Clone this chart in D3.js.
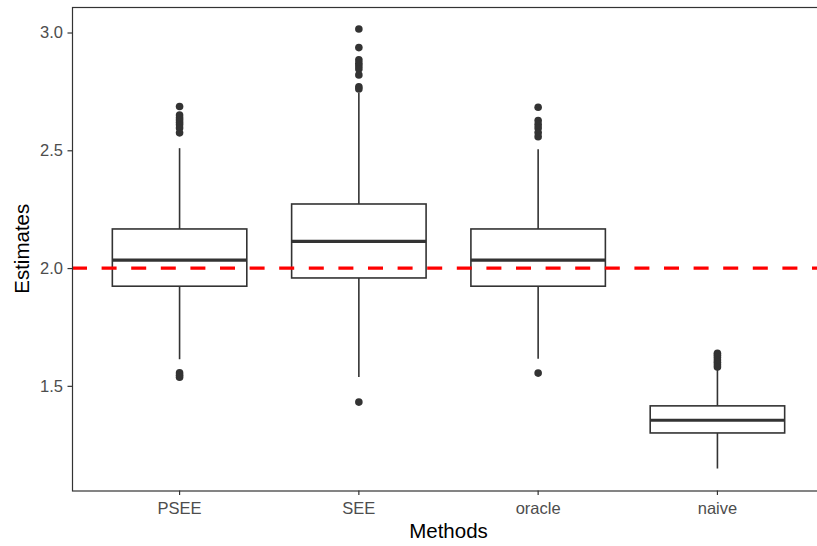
<!DOCTYPE html>
<html>
<head>
<meta charset="utf-8">
<script src="https://cdn.jsdelivr.net/npm/d3@7"></script>
<style>
  body { margin: 0; background: #fff; overflow: hidden; }
  text { font-family: "Liberation Sans", Arial, sans-serif; }
</style>
</head>
<body>
<div id="container"></div>
<script>
// box statistics
const methods = ["PSEE", "SEE", "oracle", "naive"];
const whiskerLow = [1.613, 1.538, 1.615, 1.149];
const q1 = [1.923, 1.958, 1.923, 1.300];
const median = [2.034, 2.113, 2.034, 1.354];
const q3 = [2.166, 2.272, 2.166, 1.415];
const whiskerHigh = [2.509, 2.744, 2.504, 1.575];
const outliers = [
  [2.686, 2.650, 2.638, 2.629, 2.618, 2.608, 2.595, 2.574, 1.555, 1.545, 1.537],
  [3.015, 2.936, 2.884, 2.870, 2.858, 2.845, 2.820, 2.770, 2.760, 1.431],
  [2.683, 2.626, 2.610, 2.595, 2.575, 2.558, 1.554],
  [1.638, 1.630, 1.620, 1.610, 1.600, 1.590, 1.580]
];
const yTicks = [1.5, 2.0, 2.5, 3.0];
const refValue = 2;

const page = d3.select("#container");
const width = 817, height = 546;
// the panel runs a little past the right edge of the picture
const marginLeft = 72, panelRight = 825, marginTop = 7, marginBottom = 55.5;

const svg = page.append("svg")
  .attr("width", width)
  .attr("height", height)
  .attr("viewBox", [0, 0, width, height]);

const x = d3.scaleBand()
  .domain(methods)
  .range([marginLeft, panelRight])
  .paddingOuter(0.1)
  .paddingInner(0);

// keep ggplot's 5% padding around the data range
const yMin = 1.149, yMax = 3.015, pad = (yMax - yMin) * 0.05;
const y = d3.scaleLinear()
  .domain([yMin - pad, yMax + pad])
  .range([height - marginBottom, marginTop]);

const cx = m => x(m) + x.bandwidth() / 2;
const boxW = x.bandwidth() * 0.75;
const ink = "#333333";

const stats = methods.map((m, i) => ({
  m, lo: whiskerLow[i], q1: q1[i], med: median[i], q3: q3[i], hi: whiskerHigh[i], out: outliers[i]
}));

const g = svg.append("g");

// whiskers
g.selectAll(".whisk")
  .data(stats)
  .join("g")
  .each(function(d) {
    const s = d3.select(this);
    s.append("line")
      .attr("x1", cx(d.m)).attr("x2", cx(d.m))
      .attr("y1", y(d.q3)).attr("y2", y(d.hi))
      .attr("stroke", ink).attr("stroke-width", 1.6);
    s.append("line")
      .attr("x1", cx(d.m)).attr("x2", cx(d.m))
      .attr("y1", y(d.q1)).attr("y2", y(d.lo))
      .attr("stroke", ink).attr("stroke-width", 1.6);
  });

// boxes
g.selectAll(".box")
  .data(stats)
  .join("rect")
  .attr("x", d => cx(d.m) - boxW / 2)
  .attr("y", d => y(d.q3))
  .attr("width", boxW)
  .attr("height", d => y(d.q1) - y(d.q3))
  .attr("fill", "white")
  .attr("stroke", ink)
  .attr("stroke-width", 1.6);

// medians
g.selectAll(".med")
  .data(stats)
  .join("line")
  .attr("x1", d => cx(d.m) - boxW / 2)
  .attr("x2", d => cx(d.m) + boxW / 2)
  .attr("y1", d => y(d.med))
  .attr("y2", d => y(d.med))
  .attr("stroke", ink)
  .attr("stroke-width", 3.2);

// outliers
g.selectAll(".out")
  .data(stats.flatMap(d => d.out.map(v => ({ m: d.m, v }))))
  .join("circle")
  .attr("cx", d => cx(d.m))
  .attr("cy", d => y(d.v))
  .attr("r", 3.8)
  .attr("fill", ink);

// reference line
svg.append("line")
  .attr("x1", marginLeft).attr("x2", panelRight)
  .attr("y1", y(refValue)).attr("y2", y(refValue))
  .attr("stroke", "#ff0000")
  .attr("stroke-width", 3.2)
  .attr("stroke-dasharray", "15,14.6");

// panel border
svg.append("rect")
  .attr("x", marginLeft + 0.5)
  .attr("y", marginTop + 0.5)
  .attr("width", panelRight - marginLeft)
  .attr("height", height - marginBottom - marginTop)
  .attr("fill", "none")
  .attr("stroke", ink)
  .attr("stroke-width", 1.2);

// axes
svg.append("g")
  .attr("transform", `translate(${marginLeft},0)`)
  .call(d3.axisLeft(y).tickValues(yTicks).tickFormat(d3.format(".1f")).tickSize(4.5).tickPadding(4.5))
  .call(a => a.select(".domain").remove())
  .call(a => a.selectAll("line").attr("stroke", ink).attr("stroke-width", 1.2))
  .call(a => a.selectAll("text").attr("fill", "#4d4d4d").attr("font-size", 16.5));

svg.append("g")
  .attr("transform", `translate(0,${height - marginBottom})`)
  .call(d3.axisBottom(x).tickSize(4.5).tickPadding(7))
  .call(a => a.select(".domain").remove())
  .call(a => a.selectAll("line").attr("stroke", ink).attr("stroke-width", 1.2))
  .call(a => a.selectAll("text").attr("fill", "#4d4d4d").attr("font-size", 16.5));

// titles
svg.append("text")
  .attr("x", (marginLeft + panelRight) / 2)
  .attr("y", 538)
  .attr("text-anchor", "middle")
  .attr("font-size", 20.5)
  .attr("fill", "black")
  .text("Methods");

svg.append("text")
  .attr("transform", `translate(29,${(marginTop + height - marginBottom) / 2}) rotate(-90)`)
  .attr("text-anchor", "middle")
  .attr("font-size", 20.5)
  .attr("fill", "black")
  .text("Estimates");
</script>
</body>
</html>
